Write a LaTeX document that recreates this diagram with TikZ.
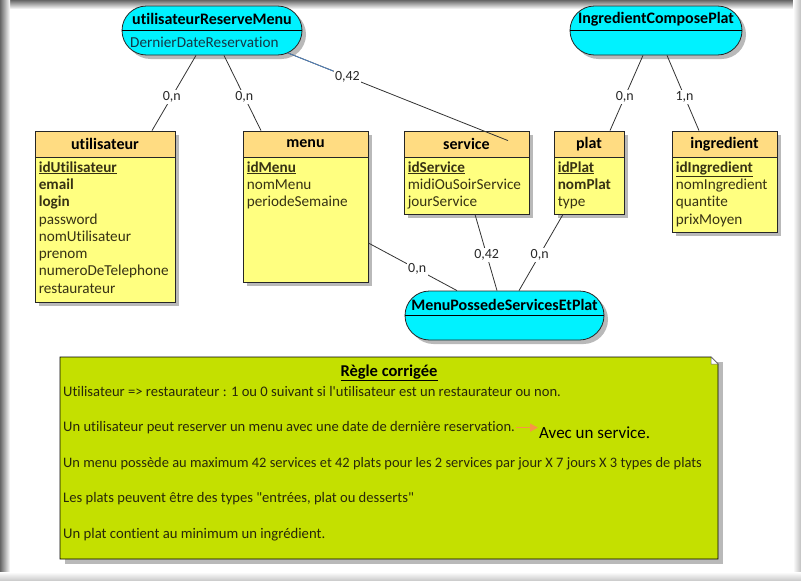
\documentclass[tikz,border=0pt]{standalone}
\usepackage{fontspec}
\setmainfont{Carlito}[Ligatures={NoCommon}]
\usetikzlibrary{shapes.misc,calc,arrows.meta,shadows}
\definecolor{enthead}{RGB}{255,220,130}
\definecolor{entbody}{RGB}{255,255,128}
\definecolor{assoc}{RGB}{0,242,255}
\definecolor{notebg}{RGB}{196,224,0}
\definecolor{shadowc}{RGB}{185,185,185}
\definecolor{attrc}{RGB}{55,50,20}
\definecolor{asattrc}{RGB}{20,55,70}
\definecolor{linkc}{RGB}{50,50,50}
\definecolor{linkblue}{RGB}{80,130,190}
\definecolor{cardc}{RGB}{40,40,40}
\definecolor{notetxtc}{RGB}{40,40,10}
\definecolor{arrowor}{RGB}{247,150,70}
\newcommand\keyattr[1]{\underline{\textbf{#1}}}
\tikzset{
  ent/.style={draw=black!85, line width=0.8pt, fill=entbody, inner sep=0pt,
    drop shadow={shadow xshift=4pt, shadow yshift=-4pt, fill=shadowc, opacity=1}},
  enthd/.style={draw=black!85, line width=0.8pt, fill=enthead, inner sep=0pt,
    minimum height=26pt, anchor=north, font=\fontsize{16}{18}\selectfont\bfseries},
  attr/.style={anchor=base west, inner sep=0pt, text=attrc, font=\fontsize{15.2}{17}\selectfont},
  asso/.style={rounded rectangle, draw=black!85, line width=0.8pt, fill=assoc, inner sep=0pt,
    minimum height=49pt,
    drop shadow={shadow xshift=4pt, shadow yshift=-4pt, fill=shadowc, opacity=1}},
  asstitle/.style={inner sep=0pt, font=\fontsize{16}{18}\selectfont\bfseries},
  link/.style={draw=linkc, line width=0.8pt},
  card/.style={fill=white, inner sep=1.5pt, text=cardc, font=\fontsize{14}{15}\selectfont},
  notetxt/.style={anchor=base west, inner sep=0pt, text=notetxtc, font=\fontsize{14.6}{15}\selectfont},
}
\begin{document}
\begin{tikzpicture}[x=1pt,y=-1pt]
\useasboundingbox (0,0) rectangle (801,581);
% window vignette
\shade[top color=black!60, bottom color=white] (0,0) rectangle (801,9);
\shade[left color=black!60, right color=white] (0,0) rectangle (10,581);
\shade[left color=white, right color=black!25] (793,0) rectangle (801,581);
\shade[top color=white, bottom color=black!22] (0,572) rectangle (801,581);

% ---------- associations ----------
\node[asso, minimum width=180pt] (urm) at (212,30.5) {};
\draw[line width=0.8pt] (urm.west) -- (urm.east);
\node[asstitle] (urmt) at (212,19) {utilisateurReserveMenu};
\node[attr, anchor=west, text=asattrc] (urma) at (130,42) {DernierDateReservation};

\node[asso, minimum width=172pt] (icp) at (656,30.5) {};
\draw[line width=0.8pt] (icp.west) -- (icp.east);
\node[asstitle] (icpt) at (656,19) {IngredientComposePlat};

\node[asso, minimum width=199pt] (mpsp) at (504.5,315.5) {};
\draw[line width=0.8pt] (mpsp.west) -- (mpsp.east);
\node[asstitle] (mpspt) at (504.5,305) {MenuPossedeServicesEtPlat};

% ---------- entities ----------
\node[ent, minimum width=140pt, minimum height=171pt] (ut) at (105,216.5) {};
\node[enthd, minimum width=140pt] (uth) at (ut.north) {utilisateur};
\foreach \t [count=\i] in {{\keyattr{idUtilisateur}},{\textbf{email}},{\textbf{login}},password,nomUtilisateur,prenom,numeroDeTelephone,restaurateur}
  \node[attr] (ut-a\i) at ($(ut.north west)+(4,{41.5+17.3*(\i-1)})$) {\t};

\node[ent, minimum width=125pt, minimum height=151pt] (menu) at (305.5,206.5) {};
\node[enthd, minimum width=125pt] (menuh) at (menu.north) {menu};
\foreach \t [count=\i] in {{\keyattr{idMenu}},nomMenu,periodeSemaine}
  \node[attr] (menu-a\i) at ($(menu.north west)+(4,{41.5+17.3*(\i-1)})$) {\t};

\node[ent, minimum width=125pt, minimum height=83pt] (svc) at (466.5,172.5) {};
\node[enthd, minimum width=125pt] (svch) at (svc.north) {service};
\foreach \t [count=\i] in {{\keyattr{idService}},midiOuSoirService,jourService}
  \node[attr] (svc-a\i) at ($(svc.north west)+(4,{41.5+17.3*(\i-1)})$) {\t};

\node[ent, minimum width=70pt, minimum height=83pt] (plat) at (589,172.5) {};
\node[enthd, minimum width=70pt] (plath) at (plat.north) {plat};
\foreach \t [count=\i] in {{\keyattr{idPlat}},{\textbf{nomPlat}},type}
  \node[attr] (plat-a\i) at ($(plat.north west)+(4,{41.5+17.3*(\i-1)})$) {\t};

\node[ent, minimum width=105pt, minimum height=101pt] (ing) at (724.5,181.5) {};
\node[enthd, minimum width=105pt] (ingh) at (ing.north) {ingredient};
\foreach \t [count=\i] in {{\keyattr{idIngredient}},nomIngredient,quantite,prixMoyen}
  \node[attr] (ing-a\i) at ($(ing.north west)+(4,{41.5+17.3*(\i-1)})$) {\t};

% ---------- connectors ----------
\draw[link] ($(urm.south)+(-16,0)$) -- node[card, pos=0.55] (c1) {0,n} ($(uth.north)+(47,0)$);
\draw[link] ($(urm.south)+(12,0)$) -- node[card, pos=0.55] (c2) {0,n} ($(menuh.north)+(-44.5,0)$);
\coordinate (urmS) at (288,53);
\coordinate (svcE) at ($(svch.north)+(41.5,10)$);
\draw[link] (urmS) -- node[card, pos=0.27] (c3) {0,42} (svcE);
\draw[draw=linkblue, line width=0.8pt] (urmS) -- (c3);
\draw[link] ($(icp.south)+(-13,0)$) -- node[card, pos=0.55] (c4) {0,n} ($(plath.north)+(21,0)$);
\draw[link] ($(icp.south)+(11,0)$) -- node[card, pos=0.55] (c5) {1,n} ($(ingh.north)+(-25.5,0)$);
\draw[link] ($(menu.east)+(0,36.5)$) -- node[card, pos=0.55] (c6) {0,n} ($(mpsp.north)+(-47.5,0)$);
\draw[link] ($(svc.south)+(8.5,0)$) -- node[card, pos=0.53] (c7) {0,42} ($(mpsp.north)+(-7.5,0)$);
\draw[link] ($(plat.south)+(-26,0)$) -- node[card, pos=0.53] (c8) {0,n} ($(mpsp.north)+(14.5,0)$);

% ---------- note ----------
\fill[shadowc] (65,362) rectangle (723,564);
\draw[fill=notebg, line width=0.8pt] (60,357) -- (711,357) -- (718,364) -- (718,559) -- (60,559) -- cycle;
\draw[fill=white, draw=black!60, line width=0.5pt] (711,357) -- (711,364) -- (718,364) -- cycle;
\node[inner sep=0pt, anchor=base, text=black, font=\fontsize{16.5}{18}\selectfont] (nt) at (389,376) {\keyattr{Règle corrigée}};
\node[notetxt] (l1) at (63,396.5) {Utilisateur => restaurateur : 1 ou 0 suivant si l\textquotesingle utilisateur est un restaurateur ou non.};
\node[notetxt] (l2) at (63,431.5) {Un utilisateur peut reserver un menu avec une date de dernière reservation.};
\node[inner sep=0pt, anchor=base west, text=black, font=\fontsize{17}{20}\selectfont] (avec) at (539,438.5) {Avec un service.};
\draw[arrowor, line width=1.4pt, -{Triangle[length=8pt,width=8pt]}] ($(l2.east)+(1,0)$) -- ($(avec.west |- l2.east)+(-1,0)$);
\node[notetxt, font=\fontsize{14.45}{15}\selectfont] (l3) at (63,467.5) {Un menu possède au maximum 42 services et 42 plats pour les 2 services par jour X 7 jours X 3 types de plats};
\node[notetxt] (l4) at (63,502.5) {Les plats peuvent être des types \textquotedbl entrées, plat ou desserts\textquotedbl};
\node[notetxt, font=\fontsize{14.7}{15}\selectfont] (l5) at (63,538.5) {Un plat contient au minimum un ingrédient.};
\end{tikzpicture}
\end{document}
